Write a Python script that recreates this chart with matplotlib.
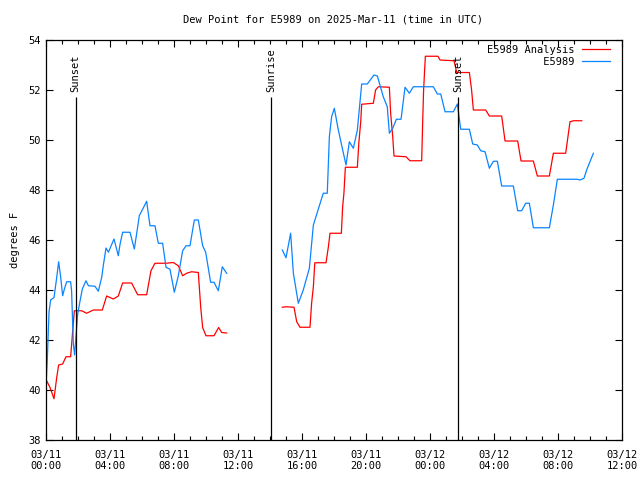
import numpy as np
import matplotlib
matplotlib.use("Agg")
import matplotlib.pyplot as plt
from matplotlib.ticker import MultipleLocator, FuncFormatter

nan = np.nan

# hours since 2025-03-11 00:00 UTC
analysis_hours = [0.04, 0.25, 0.5, 0.67, 0.79, 1.04, 1.25, 1.54, 1.67, 1.77, 2.23, 2.54, 2.96,
                  3.52, 3.79, 4.21, 4.52, 4.79, 5.35, 5.73, 6.29, 6.56, 6.81, 7.5, 7.96, 8.27,
                  8.54, 8.79, 9.1, 9.52, 9.67, 9.79, 10.0, 10.5, 10.79, 10.98, 11.29, nan,
                  14.77, 15.0, 15.5, 15.67, 15.875, 16.5, 16.6, 16.71, 16.8, 17.5, 17.65, 17.75,
                  18.46, 18.54, 18.62, 18.71, 19.46, 19.55, 19.67, 19.73, 20.46, 20.6, 20.77,
                  21.46, 21.54, 21.67, 21.75, 22.5, 22.75, 23.48, 23.54, 23.6, 23.71, 24.5,
                  24.625, 25.5, 25.67, 26.46, 26.6, 26.71, 27.48, 27.71, 28.48, 28.69, 29.48,
                  29.69, 30.46, 30.71, 31.46, 31.71, 32.48, 32.75, 32.96, 33.48]
analysis_dewp = [40.37, 40.1, 39.65, 40.5, 41.0, 41.04, 41.33, 41.33, 42.37, 43.17, 43.17, 43.07, 43.2,
                 43.2, 43.76, 43.64, 43.76, 44.28, 44.28, 43.81, 43.81, 44.77, 45.07, 45.07, 45.1, 44.97,
                 44.57, 44.67, 44.73, 44.7, 43.3, 42.5, 42.17, 42.17, 42.5, 42.3, 42.28, nan,
                 43.31, 43.33, 43.31, 42.73, 42.51, 42.51, 43.47, 44.13, 45.09, 45.09, 45.73, 46.27,
                 46.27, 47.33, 47.87, 48.91, 48.91, 49.87, 50.73, 51.43, 51.47, 52.0, 52.13,
                 52.11, 51.07, 50.13, 49.36, 49.33, 49.17, 49.17, 50.67, 52.0, 53.35, 53.35,
                 53.2, 53.17, 52.7, 52.7, 52.0, 51.2, 51.2, 50.96, 50.96, 49.96, 49.96,
                 49.16, 49.16, 48.56, 48.56, 49.47, 49.47, 50.73, 50.77, 50.77]

obs_hours = [0.02, 0.08, 0.19, 0.29, 0.5, 0.67, 0.79, 0.92, 1.04, 1.15, 1.29, 1.54, 1.6, 1.67,
             1.71, 1.79, 1.87, 1.98, 2.13, 2.27, 2.5, 2.65, 3.06, 3.27, 3.48, 3.58, 3.75, 3.9,
             4.25, 4.52, 4.63, 4.79, 5.25, 5.52, 5.71, 5.83, 6.08, 6.29, 6.5, 6.81, 7.02, 7.29,
             7.5, 7.75, 8.02, 8.27, 8.54, 8.75, 9.0, 9.27, 9.52, 9.79, 9.98, 10.29, 10.5, 10.77,
             11.02, 11.29, nan,
             14.77, 15.0, 15.29, 15.46, 15.77, 16.08, 16.46, 16.71, 17.1, 17.33, 17.58, 17.71,
             17.85, 18.02, 18.27, 18.75, 18.96, 19.21, 19.46, 19.73, 20.08, 20.5, 20.71, 21.08,
             21.33, 21.46, 21.67, 21.9, 22.19, 22.44, 22.71, 22.96, 24.21, 24.46, 24.67, 24.94,
             25.46, 25.71, 25.92, 26.46, 26.67, 26.96, 27.17, 27.44, 27.71, 27.96, 28.21, 28.48,
             29.21, 29.48, 29.73, 29.98, 30.21, 30.46, 31.46, 31.71, 31.96, 33.21, 33.375,
             33.625, 33.79, 34.21]
obs_dewp = [40.4, 41.2, 43.13, 43.6, 43.7, 44.5, 45.13, 44.5, 43.77, 44.04, 44.33, 44.33, 43.97, 42.57,
            41.84, 41.4, 42.11, 43.04, 43.57, 44.04, 44.37, 44.17, 44.15, 43.95, 44.5, 44.97, 45.68, 45.51,
            46.04, 45.37, 45.84, 46.31, 46.31, 45.64, 46.44, 46.97, 47.28, 47.55, 46.57, 46.57, 45.87, 45.87,
            44.91, 44.83, 43.91, 44.57, 45.57, 45.77, 45.77, 46.8, 46.8, 45.77, 45.51, 44.31, 44.31, 43.97,
            44.93, 44.67, nan,
            45.6, 45.29, 46.27, 44.67, 43.47, 44.0, 44.87, 46.6, 47.4, 47.87, 47.87, 50.13,
            50.93, 51.27, 50.4, 49.0, 49.93, 49.67, 50.4, 52.24, 52.24, 52.6, 52.56, 51.73,
            51.33, 50.27, 50.47, 50.83, 50.83, 52.11, 51.87, 52.13, 52.13, 51.84, 51.84, 51.13,
            51.13, 51.44, 50.43, 50.43, 49.84, 49.8, 49.57, 49.53, 48.87, 49.15, 49.15, 48.16,
            48.16, 47.17, 47.17, 47.47, 47.47, 46.49, 46.49, 47.4, 48.43, 48.43, 48.4,
            48.47, 48.8, 49.47]

sun_events = ["Sunset", "Sunrise", "Sunset"]
sun_hours = [1.85, 14.06, 25.77]

days = ["03/11", "03/12"]

FONT = "DejaVu Sans Mono"
FS = 7.5
plt.rcParams["font.family"] = FONT
plt.rcParams["font.size"] = FS

fig = plt.figure(figsize=(6.4, 4.8), dpi=100)
ax = fig.add_axes([46 / 640, 40 / 480, 576 / 640, 400 / 480])

ax.plot(analysis_hours, analysis_dewp, color="#ff0000", lw=0.9, label="E5989 Analysis")
ax.plot(obs_hours, obs_dewp, color="#0a84ff", lw=0.9, label="     E5989")

for name, h in zip(sun_events, sun_hours):
    ax.vlines(h, 38, 51.72, color="black", lw=0.9)
    ax.text(h, 51.9, name, rotation=90, ha="center", va="bottom", fontsize=FS)

ax.set_xlim(0, 36)
ax.set_ylim(38, 54)
ax.xaxis.set_major_locator(MultipleLocator(4))
ax.xaxis.set_minor_locator(MultipleLocator(1))
ax.yaxis.set_major_locator(MultipleLocator(2))


def fmt_time(x, pos):
    d = int(x // 24)
    return "%s\n%02d:00" % (days[min(d, len(days) - 1)], int(x % 24))


ax.xaxis.set_major_formatter(FuncFormatter(fmt_time))
ax.tick_params(which="both", direction="in", top=True, right=True, width=0.8, labelsize=FS)
ax.tick_params(which="major", length=5)
ax.tick_params(which="minor", length=3)
ax.tick_params(axis="x", pad=7)
for s in ax.spines.values():
    s.set_linewidth(0.9)

ax.set_ylabel("degrees F", fontsize=FS, labelpad=6)
fig.text(333 / 640, 1 - 20 / 480, "Dew Point for E5989 on 2025-Mar-11 (time in UTC)",
         ha="center", va="center", fontsize=FS)

leg = ax.legend(loc="upper right", bbox_to_anchor=(564 / 576, 395 / 400), frameon=False,
                markerfirst=False, handlelength=2.7, handletextpad=0.7, labelspacing=0.2,
                borderaxespad=0, borderpad=0, prop={"family": FONT, "size": FS})

fig.savefig("out.png", dpi=100)
